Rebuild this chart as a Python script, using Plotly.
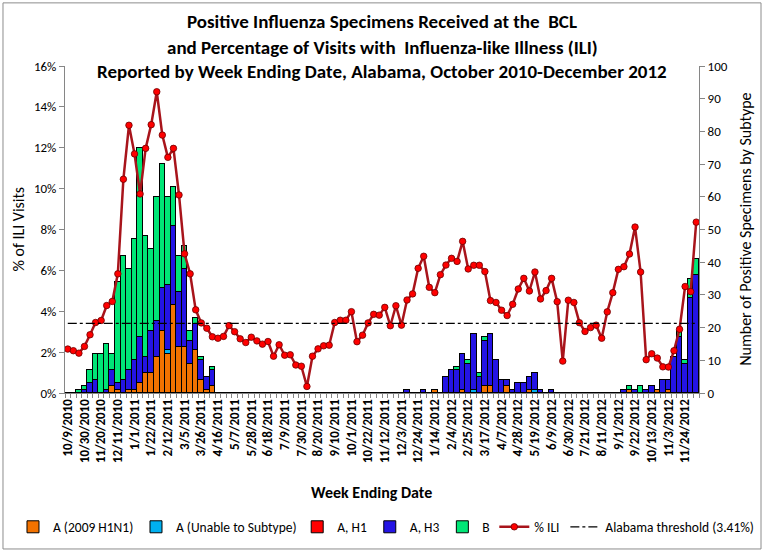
import plotly.graph_objects as go
import pandas as pd

# weekly categories (week ending date), Oct 2010 - Dec 2012
weeks = pd.date_range("2010-10-09", periods=114, freq="7D")
week_labels = [f"{d.month}/{d.day}/{d.year}" for d in weeks]

# % of visits with ILI
ili_pct = [
    2.15, 2.07, 1.95, 2.28, 2.85, 3.45, 3.55, 4.28, 4.48, 5.83,
    10.46, 13.10, 11.70, 9.74, 11.97, 13.13, 14.74, 12.62, 11.53, 11.97,
    9.69, 6.81, 5.83, 4.07, 3.43, 3.17, 2.75, 2.68, 2.77, 3.30,
    3.00, 2.65, 2.47, 2.73, 2.55, 2.39, 2.52, 1.80, 2.36, 1.85,
    1.87, 1.37, 1.31, 0.32, 1.80, 2.16, 2.31, 2.34, 3.45, 3.56,
    3.56, 3.98, 2.51, 2.83, 3.43, 3.85, 3.81, 4.19, 3.29, 4.27,
    3.32, 4.55, 4.85, 6.10, 6.69, 5.17, 4.91, 5.79, 6.26, 6.59,
    6.44, 7.42, 6.07, 6.25, 6.25, 5.94, 4.52, 4.43, 4.05, 3.79,
    4.34, 5.09, 5.61, 4.99, 5.92, 4.60, 5.01, 5.61, 4.47, 1.56,
    4.54, 4.43, 3.44, 3.01, 3.20, 3.32, 2.68, 3.97, 4.91, 6.05,
    6.18, 6.80, 8.12, 5.92, 1.63, 1.92, 1.71, 1.28, 1.27, 2.07,
    3.12, 5.21, 4.96, 8.36,
]

# positive specimens by subtype
h1n1_2009 = [
    0, 0, 0, 0, 0, 0, 0, 0, 2, 1,
    0, 1, 1, 3, 6, 6, 11, 19, 12, 27,
    14, 14, 9, 13, 4, 1, 2, 0, 0, 0,
    0, 0, 0, 0, 0, 0, 0, 0, 0, 0,
    0, 0, 0, 0, 0, 0, 0, 0, 0, 0,
    0, 0, 0, 0, 0, 0, 0, 0, 0, 0,
    0, 0, 0, 0, 0, 0, 1, 0, 0, 0,
    0, 1, 0, 0, 0, 2, 2, 0, 0, 2,
    0, 0, 0, 1, 0, 0, 0, 0, 0, 0,
    0, 0, 0, 0, 0, 0, 0, 0, 0, 0,
    0, 1, 0, 0, 0, 0, 1, 0, 1, 0,
    0, 0, 0, 0,
]
unable = [
    0, 0, 0, 0, 0, 0, 0, 0, 0, 0,
    0, 0, 0, 0, 0, 0, 0, 0, 1, 0,
    0, 0, 0, 0, 0, 0, 0, 0, 0, 0,
    0, 0, 0, 0, 0, 0, 0, 0, 0, 0,
    0, 0, 0, 0, 0, 0, 0, 0, 0, 0,
    0, 0, 0, 0, 0, 0, 0, 0, 0, 0,
    0, 0, 0, 0, 0, 0, 0, 0, 0, 0,
    0, 0, 0, 1, 0, 0, 0, 0, 0, 0,
    0, 0, 0, 0, 1, 0, 0, 0, 0, 0,
    0, 0, 0, 0, 0, 0, 0, 0, 0, 0,
    0, 0, 0, 0, 0, 0, 0, 0, 0, 0,
    0, 0, 0, 0,
]
h1 = [0] * 114
h3 = [
    0, 0, 0, 1, 3, 4, 0, 1, 5, 2,
    4, 6, 9, 14, 5, 13, 11, 13, 20, 24,
    17, 24, 7, 8, 6, 4, 5, 0, 0, 0,
    0, 0, 0, 0, 0, 0, 0, 0, 0, 0,
    0, 0, 0, 0, 0, 0, 0, 0, 0, 0,
    0, 0, 0, 0, 0, 0, 0, 0, 0, 0,
    0, 1, 0, 0, 1, 0, 0, 0, 5, 7,
    7, 11, 9, 17, 5, 14, 16, 10, 4, 2,
    1, 3, 3, 4, 5, 1, 0, 1, 0, 0,
    0, 0, 0, 0, 0, 0, 0, 0, 0, 0,
    1, 0, 1, 0, 1, 2, 0, 4, 3, 11,
    17, 9, 29, 36,
]
flu_b = [
    0, 0, 1, 1, 4, 8, 12, 14, 5, 31,
    38, 31, 37, 58, 37, 25, 38, 38, 27, 12,
    11, 7, 3, 2, 1, 0, 1, 0, 0, 0,
    0, 0, 0, 0, 0, 0, 0, 0, 0, 0,
    0, 0, 0, 0, 0, 0, 0, 0, 0, 0,
    0, 0, 0, 0, 0, 0, 0, 0, 0, 0,
    0, 0, 0, 0, 0, 0, 0, 0, 0, 0,
    1, 0, 1, 0, 1, 1, 0, 0, 0, 0,
    0, 0, 0, 0, 0, 0, 0, 0, 0, 0,
    0, 0, 0, 0, 0, 0, 0, 0, 0, 0,
    0, 1, 0, 2, 0, 0, 0, 0, 0, 0,
    2, 1, 6, 5,
]
threshold = 3.41

title_lines = [
    "Positive Influenza Specimens Received at the  BCL",
    "and Percentage of Visits with  Influenza-like Illness (ILI)",
    "Reported by Week Ending Date, Alabama, October 2010-December 2012",
]

FONT = "Carlito, Liberation Sans Narrow, Liberation Sans, sans-serif"
AXIS_GREY = "#868686"

# show a label every 3rd week, tick marks at every week boundary
tick_text = [lab if i % 3 == 0 else "" for i, lab in enumerate(week_labels)]

# one small legend per entry so the row can be packed like the original
legend_x = [0.017, 0.178, 0.389, 0.484, 0.579, 0.647, 0.740]
legend_ids = ["legend"] + [f"legend{i}" for i in range(2, 8)]

fig = go.Figure()

series = [
    ("A (2009 H1N1)", h1n1_2009, "#F27200"),
    ("A (Unable to Subtype)", unable, "#00B0F0"),
    ("A, H1", h1, "#FF0000"),
    ("A, H3", h3, "#2414E4"),
    ("B", flu_b, "#00E676"),
]
for k, (name, vals, col) in enumerate(series):
    fig.add_trace(go.Bar(
        x=week_labels, y=vals, name=name, legend=legend_ids[k],
        marker=dict(color=col, line=dict(color="black", width=1)),
        yaxis="y",
    ))

fig.add_trace(go.Scatter(
    x=week_labels, y=ili_pct, name="% ILI", mode="lines+markers", legend=legend_ids[5],
    line=dict(color="#A8141B", width=2.5),
    marker=dict(color="#FF0000", size=6.5, line=dict(color="#6B0000", width=0.8)),
    yaxis="y2",
))
fig.add_trace(go.Scatter(
    x=[week_labels[0], week_labels[-1]], y=[threshold, threshold],
    name="Alabama threshold (3.41%)", mode="lines", legend=legend_ids[6],
    line=dict(color="black", width=1.2, dash="dashdot"),
    yaxis="y2",
))

# chart title in three lines
for i, line in enumerate(title_lines):
    fig.add_annotation(
        text="<b>" + line + "</b>", xref="paper", yref="paper",
        x=0.5, y=[1.1346, 1.058, 0.9817][i], xanchor="center", yanchor="middle",
        showarrow=False, font=dict(size=19, color="black", family=FONT),
    )

fig.add_annotation(text="% of ILI Visits", xref="paper", yref="paper",
                   x=-0.074, y=0.5, xanchor="center", yanchor="middle",
                   textangle=-90, showarrow=False,
                   font=dict(size=16, color="black", family=FONT))
fig.add_annotation(text="Number of Positive Specimens by Subtype", xref="paper", yref="paper",
                   x=1.073, y=0.5, xanchor="center", yanchor="middle",
                   textangle=-90, showarrow=False,
                   font=dict(size=16, color="black", family=FONT))
fig.add_annotation(text="<b>Week Ending Date</b>", xref="paper", yref="paper",
                   x=0.484, y=-0.303, xanchor="center", yanchor="middle", showarrow=False,
                   font=dict(size=16, color="black", family=FONT))

# outer chart border
fig.add_shape(type="rect", xref="paper", yref="paper",
              x0=-0.0978, x1=1.0978, y0=-0.477, y1=1.193,
              line=dict(color="#8C8C8C", width=1))

legend_style = dict(orientation="h", xanchor="left", xref="container",
                    y=0.0487, yanchor="middle", yref="container",
                    font=dict(size=13.5), itemwidth=30, bgcolor="rgba(0,0,0,0)")
legends = {lid: dict(legend_style, x=legend_x[k]) for k, lid in enumerate(legend_ids)}

fig.update_layout(
    width=764, height=554,
    margin=dict(l=65, r=65, t=66, b=161),
    paper_bgcolor="white", plot_bgcolor="white",
    barmode="stack", bargap=0,
    font=dict(family=FONT, size=12, color="black"),
    showlegend=True,
    xaxis=dict(
        type="category", tickmode="array", tickvals=week_labels, ticktext=tick_text,
        tickson="boundaries", ticks="outside", ticklen=4, tickcolor=AXIS_GREY,
        tickangle=-90, tickfont=dict(size=13, weight="bold"),
        showline=True, linecolor=AXIS_GREY, showgrid=False, automargin=False,
        range=[-0.5, len(week_labels) - 0.5],
    ),
    yaxis=dict(
        range=[0, 100], dtick=10, side="right",
        showline=True, linecolor=AXIS_GREY, ticks="outside", ticklen=5,
        tickcolor=AXIS_GREY, showgrid=False, zeroline=False, automargin=False,
        tickfont=dict(size=13),
    ),
    yaxis2=dict(
        range=[0, 16], dtick=2, ticksuffix="%", side="left", overlaying="y",
        showline=True, linecolor=AXIS_GREY, ticks="outside", ticklen=5,
        tickcolor=AXIS_GREY, showgrid=False, zeroline=False, automargin=False,
        tickfont=dict(size=13),
    ),
    **legends,
)

# drop the default page margin so the figure sits at the window origin
fig.write_html("out.html", config={"displayModeBar": False},
               post_script="document.body.style.margin='0';")
